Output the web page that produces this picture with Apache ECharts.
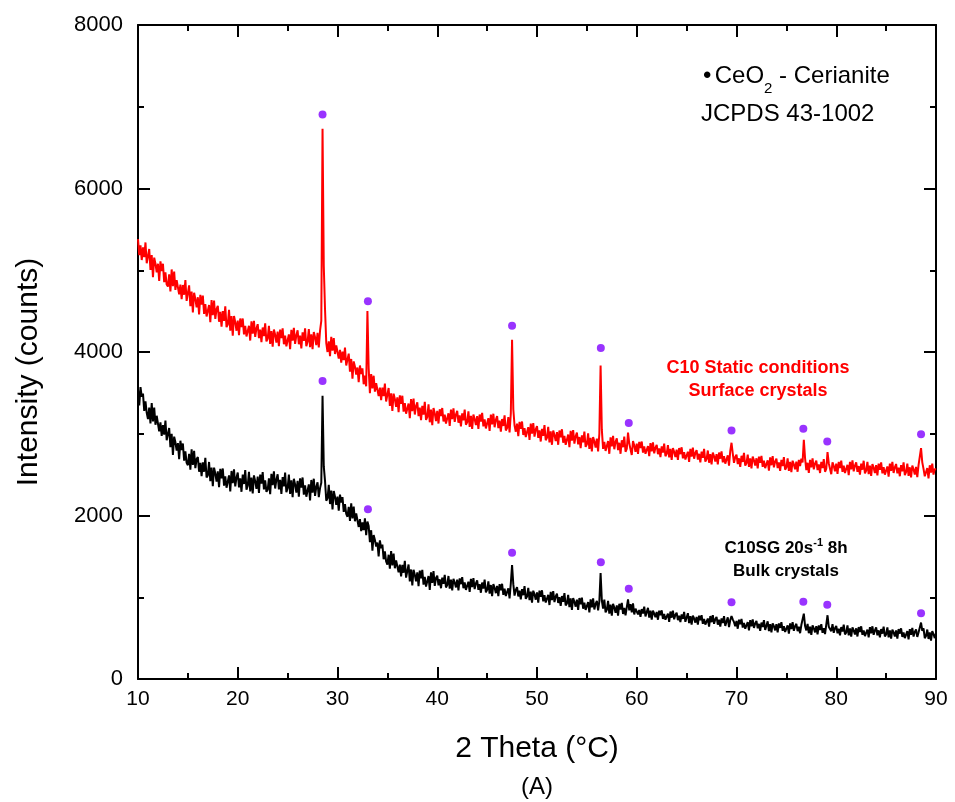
<!DOCTYPE html>
<html>
<head>
<meta charset="utf-8">
<script src="https://cdn.jsdelivr.net/npm/echarts@6/dist/echarts.min.js"></script>
<style>
html,body{margin:0;padding:0;background:#fff;}
#chart{width:955px;height:802px;}
</style>
</head>
<body>
<div id="chart"></div>
<script>
// 2θ sampling grid: 10° to 90° in 0.125° steps (8 samples per degree)
const thetaStart = 10;
const thetaStep = 0.125;

// Surface crystals (red) — one row per degree, 10° … 89°, then 90°
const surfaceCounts = [
5380,5185,5305,5125,5280,5160,5340,5085,
5080,5260,5005,5185,4915,5155,5080,4975,
5080,4870,5110,4990,5080,4855,4975,4825,
4800,4950,4740,5010,4805,4985,4760,4880,
4900,4705,4825,4645,4820,4700,4880,4625,
4635,4815,4560,4740,4485,4725,4650,4545,
4670,4460,4700,4580,4690,4465,4585,4435,
4425,4575,4365,4635,4450,4630,4405,4525,
4565,4370,4490,4310,4500,4380,4560,4305,
4335,4515,4260,4440,4200,4440,4365,4260,
4385,4205,4410,4305,4410,4215,4320,4190,
4190,4320,4140,4375,4225,4380,4185,4290,
4340,4170,4275,4120,4300,4195,4350,4130,
4165,4320,4100,4255,4065,4275,4210,4115,
4250,4070,4275,4170,4290,4095,4200,4070,
4085,4215,4035,4270,4140,4295,4100,4205,
4265,4095,4200,4045,4240,4135,4290,4070,
4125,4280,4060,4215,4035,4245,4180,4085,
4235,4055,4260,4380,6730,5050,4520,4110,
4000,4130,3950,4185,4015,4170,3975,4080,
4090,3920,4025,3870,4005,3900,4055,3835,
3825,3980,3760,3915,3675,3885,3820,3725,
3810,3630,3835,3730,3800,3605,3710,3580,
4500,3800,3495,3730,3555,3710,3515,3620,
3630,3460,3565,3410,3565,3460,3615,3395,
3405,3560,3340,3495,3280,3490,3425,3330,
3445,3265,3470,3365,3465,3270,3375,3245,
3240,3370,3190,3425,3275,3430,3235,3340,
3385,3215,3320,3165,3340,3235,3390,3170,
3205,3360,3140,3295,3105,3315,3250,3155,
3280,3125,3300,3215,3315,3150,3235,3125,
3140,3250,3095,3295,3180,3310,3145,3235,
3280,3135,3225,3090,3250,3165,3295,3110,
3140,3275,3085,3220,3060,3235,3180,3105,
3215,3060,3235,3150,3255,3090,3175,3065,
3080,3190,3035,3235,3115,3245,3080,3170,
3215,3070,3160,3025,3180,3095,3225,3040,
3070,3205,3015,3250,4150,3300,3100,3025,
3125,2970,3145,3060,3150,2985,3070,2960,
2970,3080,2925,3125,3000,3130,2965,3055,
3095,2950,3040,2905,3060,2975,3105,2920,
2950,3085,2895,3030,2865,3040,2985,2910,
3020,2865,3040,2955,3055,2890,2975,2865,
2880,2990,2835,3035,2915,3045,2880,2970,
3015,2870,2960,2825,2980,2895,3025,2840,
2870,3005,2815,2950,2785,2960,2905,2830,
2940,2785,3000,3835,3050,2815,2900,2790,
2800,2910,2755,2955,2845,2975,2810,2900,
2945,2800,2890,2755,2920,2835,2965,2780,
2815,3015,2880,2895,2740,2910,2855,2780,
2880,2755,2900,2825,2905,2770,2845,2755,
2760,2850,2725,2885,2785,2895,2760,2830,
2865,2750,2820,2715,2845,2770,2880,2725,
2755,2860,2710,2815,2680,2825,2780,2715,
2805,2680,2825,2750,2835,2700,2775,2685,
2690,2780,2655,2815,2720,2830,2695,2765,
2800,2685,2755,2650,2780,2705,2815,2660,
2690,2795,2645,2750,2625,2770,2725,2660,
2750,2625,2770,2695,2785,2650,2725,2635,
2645,2735,2610,2790,2890,2760,2645,2715,
2745,2630,2700,2595,2730,2655,2765,2610,
2640,2745,2595,2700,2575,2720,2675,2610,
2700,2575,2720,2645,2730,2595,2670,2580,
2585,2675,2550,2710,2615,2725,2590,2660,
2695,2580,2650,2545,2680,2605,2715,2560,
2590,2700,2545,2655,2530,2670,2625,2565,
2660,2535,2680,2605,2695,2650,2925,2700,
2555,2645,2520,2680,2590,2700,2565,2635,
2670,2555,2625,2520,2655,2580,2690,2535,
2570,2775,2640,2630,2505,2650,2605,2540,
2635,2510,2655,2580,2670,2535,2610,2520,
2530,2620,2495,2655,2565,2675,2540,2610,
2650,2535,2605,2500,2635,2560,2670,2515,
2550,2655,2505,2610,2485,2630,2585,2520,
2615,2490,2635,2560,2650,2515,2590,2500,
2510,2600,2475,2635,2545,2655,2520,2590,
2630,2515,2585,2480,2615,2540,2650,2495,
2530,2635,2485,2590,2465,2610,2565,2500,
2595,2470,2615,2620,2825,2650,2570,2480,
2490,2580,2455,2615,2525,2635,2500,2570,
2560
];

// Bulk crystals (black) — one row per degree, 10° … 89°, then 90°
const bulkCounts = [
3540,3345,3570,3455,3490,3280,3395,3255,
3180,3320,3125,3375,3150,3320,3110,3220,
3210,3030,3140,2975,3105,2990,3160,2920,
2905,3070,2835,3000,2740,2965,2895,2795,
2885,2690,2915,2800,2880,2670,2785,2645,
2615,2755,2560,2810,2620,2790,2580,2690,
2715,2535,2645,2480,2650,2535,2705,2465,
2490,2655,2420,2585,2360,2585,2515,2415,
2540,2345,2570,2455,2575,2365,2480,2340,
2350,2490,2295,2545,2395,2565,2355,2465,
2525,2345,2455,2290,2500,2385,2555,2315,
2365,2535,2295,2465,2270,2490,2420,2325,
2475,2275,2500,2390,2530,2320,2430,2290,
2315,2455,2260,2510,2370,2540,2330,2440,
2505,2320,2435,2265,2470,2355,2525,2285,
2335,2500,2265,2430,2225,2450,2380,2280,
2425,2230,2455,2340,2465,2255,2370,2230,
2240,2380,2185,2435,2280,2450,2240,2350,
2405,2225,2335,2400,3465,2600,2420,2180,
2210,2375,2140,2305,2075,2300,2230,2130,
2230,2060,2255,2160,2225,2045,2140,2020,
1985,2105,1935,2150,1965,2110,1930,2025,
2015,1860,1955,1810,1915,1820,1965,1760,
1925,1870,1675,1820,1570,1760,1700,1620,
1670,1500,1695,1600,1645,1465,1560,1440,
1400,1520,1350,1565,1390,1535,1355,1450,
1460,1305,1400,1255,1395,1300,1445,1240,
1255,1400,1195,1340,1145,1335,1275,1195,
1305,1135,1325,1230,1335,1155,1250,1130,
1140,1260,1090,1305,1175,1320,1140,1235,
1265,1145,1220,1110,1240,1165,1275,1120,
1150,1260,1105,1215,1085,1225,1180,1120,
1215,1085,1230,1160,1245,1110,1180,1090,
1100,1190,1065,1225,1125,1235,1100,1170,
1205,1090,1160,1055,1180,1105,1215,1060,
1090,1195,1045,1150,1015,1160,1115,1050,
1140,1015,1160,1085,1165,1030,1105,1015,
1020,1110,985,1170,1395,1160,1020,1090,
1125,1010,1080,975,1100,1025,1135,980,
1010,1115,965,1070,935,1080,1035,970,
1060,935,1080,1005,1085,950,1025,935,
940,1030,905,1065,965,1075,940,1010,
1045,930,1000,895,1015,945,1050,900,
925,1030,880,985,845,990,945,885,
970,845,990,915,995,860,935,845,
850,940,815,975,875,985,850,920,
955,840,950,1295,960,860,970,815,
845,955,800,910,775,920,875,810,
900,775,920,850,930,795,870,780,
790,975,840,915,815,925,790,860,
880,790,845,760,855,800,885,765,
785,870,750,835,725,835,800,755,
820,725,835,780,840,735,795,725,
730,800,700,825,750,835,730,785,
810,720,775,695,790,735,820,700,
720,805,685,770,665,775,740,690,
760,665,775,720,780,675,735,665,
670,740,640,770,695,780,675,730,
760,665,725,640,740,685,770,650,
670,755,635,720,770,730,695,645,
710,615,725,670,735,630,685,615,
625,695,595,720,645,730,625,680,
710,620,675,590,690,635,720,600,
620,705,585,670,570,680,645,595,
670,570,680,625,695,590,645,575,
585,655,555,680,610,695,590,645,
675,585,640,560,660,680,800,650,
595,675,560,640,540,655,620,570,
645,545,655,600,670,565,620,550,
560,780,640,660,585,670,565,620,
650,560,615,535,635,580,665,545,
570,655,535,620,520,630,595,545,
620,520,635,575,645,540,595,525,
535,605,510,635,560,645,540,595,
630,535,595,510,610,555,640,520,
545,630,510,595,495,605,570,520,
595,495,610,555,620,515,570,500,
515,585,485,610,540,625,520,575,
605,515,570,580,690,590,620,500,
525,605,490,570,470,585,550,500,
560
];

// CeO2 reflection markers (JCPDS 43-1002)
const surfacePeakTheta = [28.5, 33.05, 47.5, 56.4, 59.2, 69.5, 76.7, 79.1, 88.5];
const surfacePeakMark  = [6905, 4620, 4320, 4048, 3133, 3040, 3060, 2905, 2995];
const bulkPeakTheta    = [28.5, 33.05, 47.5, 56.4, 59.2, 69.5, 76.7, 79.1, 88.5];
const bulkPeakMark     = [3645, 2076, 1545, 1428, 1105, 940, 946, 909, 804];

const xTicks = { min: 10, max: 90, interval: 10 };
const yTicks = { min: 0, max: 8000, interval: 2000 };

const toPairs = (vals) => vals.map((v, i) => [thetaStart + i * thetaStep, v]);
const zipPairs = (xs, ys) => xs.map((x, i) => [x, ys[i]]);

const FONT = "'Liberation Sans', Arial, sans-serif";
const axisCommon = (showLabel, labelSize, margin) => ({
  axisLine: { show: true, onZero: false, lineStyle: { color: '#000', width: 2 } },
  axisTick: { show: true, inside: true, length: 12, lineStyle: { color: '#000', width: 2 } },
  minorTick: { show: true, splitNumber: 2, length: 6, lineStyle: { color: '#000', width: 2 } },
  splitLine: { show: false },
  minorSplitLine: { show: false },
  axisLabel: { show: showLabel, color: '#000', fontSize: labelSize, fontFamily: FONT, margin: margin,
               formatter: (v) => String(v) }
});

const chart = echarts.init(document.getElementById('chart'), null, { renderer: 'canvas' });
chart.setOption({
  animation: false,
  backgroundColor: '#fff',
  grid: { left: 138, right: 19, top: 25, bottom: 123 },
  xAxis: [
    Object.assign({ type: 'value', position: 'bottom' }, xTicks, axisCommon(true, 21, 10)),
    Object.assign({ type: 'value', position: 'top' }, xTicks, axisCommon(false, 21, 10))
  ],
  yAxis: [
    Object.assign({ type: 'value', position: 'left' }, yTicks, axisCommon(true, 22, 15)),
    Object.assign({ type: 'value', position: 'right' }, yTicks, axisCommon(false, 22, 15))
  ],
  series: [
    { type: 'line', name: 'Bulk', data: toPairs(bulkCounts), showSymbol: false, symbol: 'none',
      lineStyle: { color: '#000', width: 2 }, itemStyle: { color: '#000' }, z: 2 },
    { type: 'line', name: 'Surface', data: toPairs(surfaceCounts), showSymbol: false, symbol: 'none',
      lineStyle: { color: '#ff0000', width: 2 }, itemStyle: { color: '#ff0000' }, z: 3 },
    { type: 'scatter', data: zipPairs(surfacePeakTheta, surfacePeakMark), symbolSize: 8,
      itemStyle: { color: '#8000ff' }, z: 5 },
    { type: 'scatter', data: zipPairs(bulkPeakTheta, bulkPeakMark), symbolSize: 8,
      itemStyle: { color: '#8000ff' }, z: 5 }
  ],
  graphic: [
    { type: 'text', x: 29, y: 372, rotation: Math.PI / 2,
      style: { text: 'Intensity (counts)', fontSize: 30, fontFamily: FONT, fill: '#000', align: 'center', verticalAlign: 'middle' } },
    { type: 'text', x: 537, y: 749,
      style: { text: '2 Theta (°C)', fontSize: 30, fontFamily: FONT, fill: '#000', align: 'center', verticalAlign: 'middle' } },
    { type: 'text', x: 537, y: 787,
      style: { text: '(A)', fontSize: 24, fontFamily: FONT, fill: '#000', align: 'center', verticalAlign: 'middle' } },
    { type: 'text', x: 703, y: 76,
      style: { text: '{b|•} {m|CeO}{s|2}{m| - Cerianite}', fontFamily: FONT, fill: '#000', align: 'left', verticalAlign: 'middle',
        rich: {
          b: { fontSize: 24, fontFamily: FONT, lineHeight: 40 },
          m: { fontSize: 24, fontFamily: FONT, lineHeight: 40 },
          s: { fontSize: 15, fontFamily: FONT, lineHeight: 4, verticalAlign: 'bottom' }
        } } },
    { type: 'text', x: 701, y: 114,
      style: { text: 'JCPDS 43-1002', fontSize: 24, fontFamily: FONT, fill: '#000', align: 'left', verticalAlign: 'middle' } },
    { type: 'text', x: 758, y: 380,
      style: { text: 'C10 Static conditions\nSurface crystals', fontSize: 18, fontWeight: 'bold', lineHeight: 23, fontFamily: FONT, fill: '#ff0000', align: 'center', verticalAlign: 'middle' } },
    { type: 'text', x: 786, y: 548,
      style: { text: '{m|C10SG 20s}{u|-1}{m| 8h}', fontFamily: FONT, fill: '#000', align: 'center', verticalAlign: 'middle',
        rich: {
          m: { fontSize: 17, fontWeight: 'bold', fontFamily: FONT, lineHeight: 22 },
          u: { fontSize: 11, fontWeight: 'bold', fontFamily: FONT, verticalAlign: 'top', lineHeight: 10 }
        } } },
    { type: 'text', x: 786, y: 571,
      style: { text: 'Bulk crystals', fontSize: 17, fontWeight: 'bold', fontFamily: FONT, fill: '#000', align: 'center', verticalAlign: 'middle' } }
  ]
});
</script>
</body>
</html>
